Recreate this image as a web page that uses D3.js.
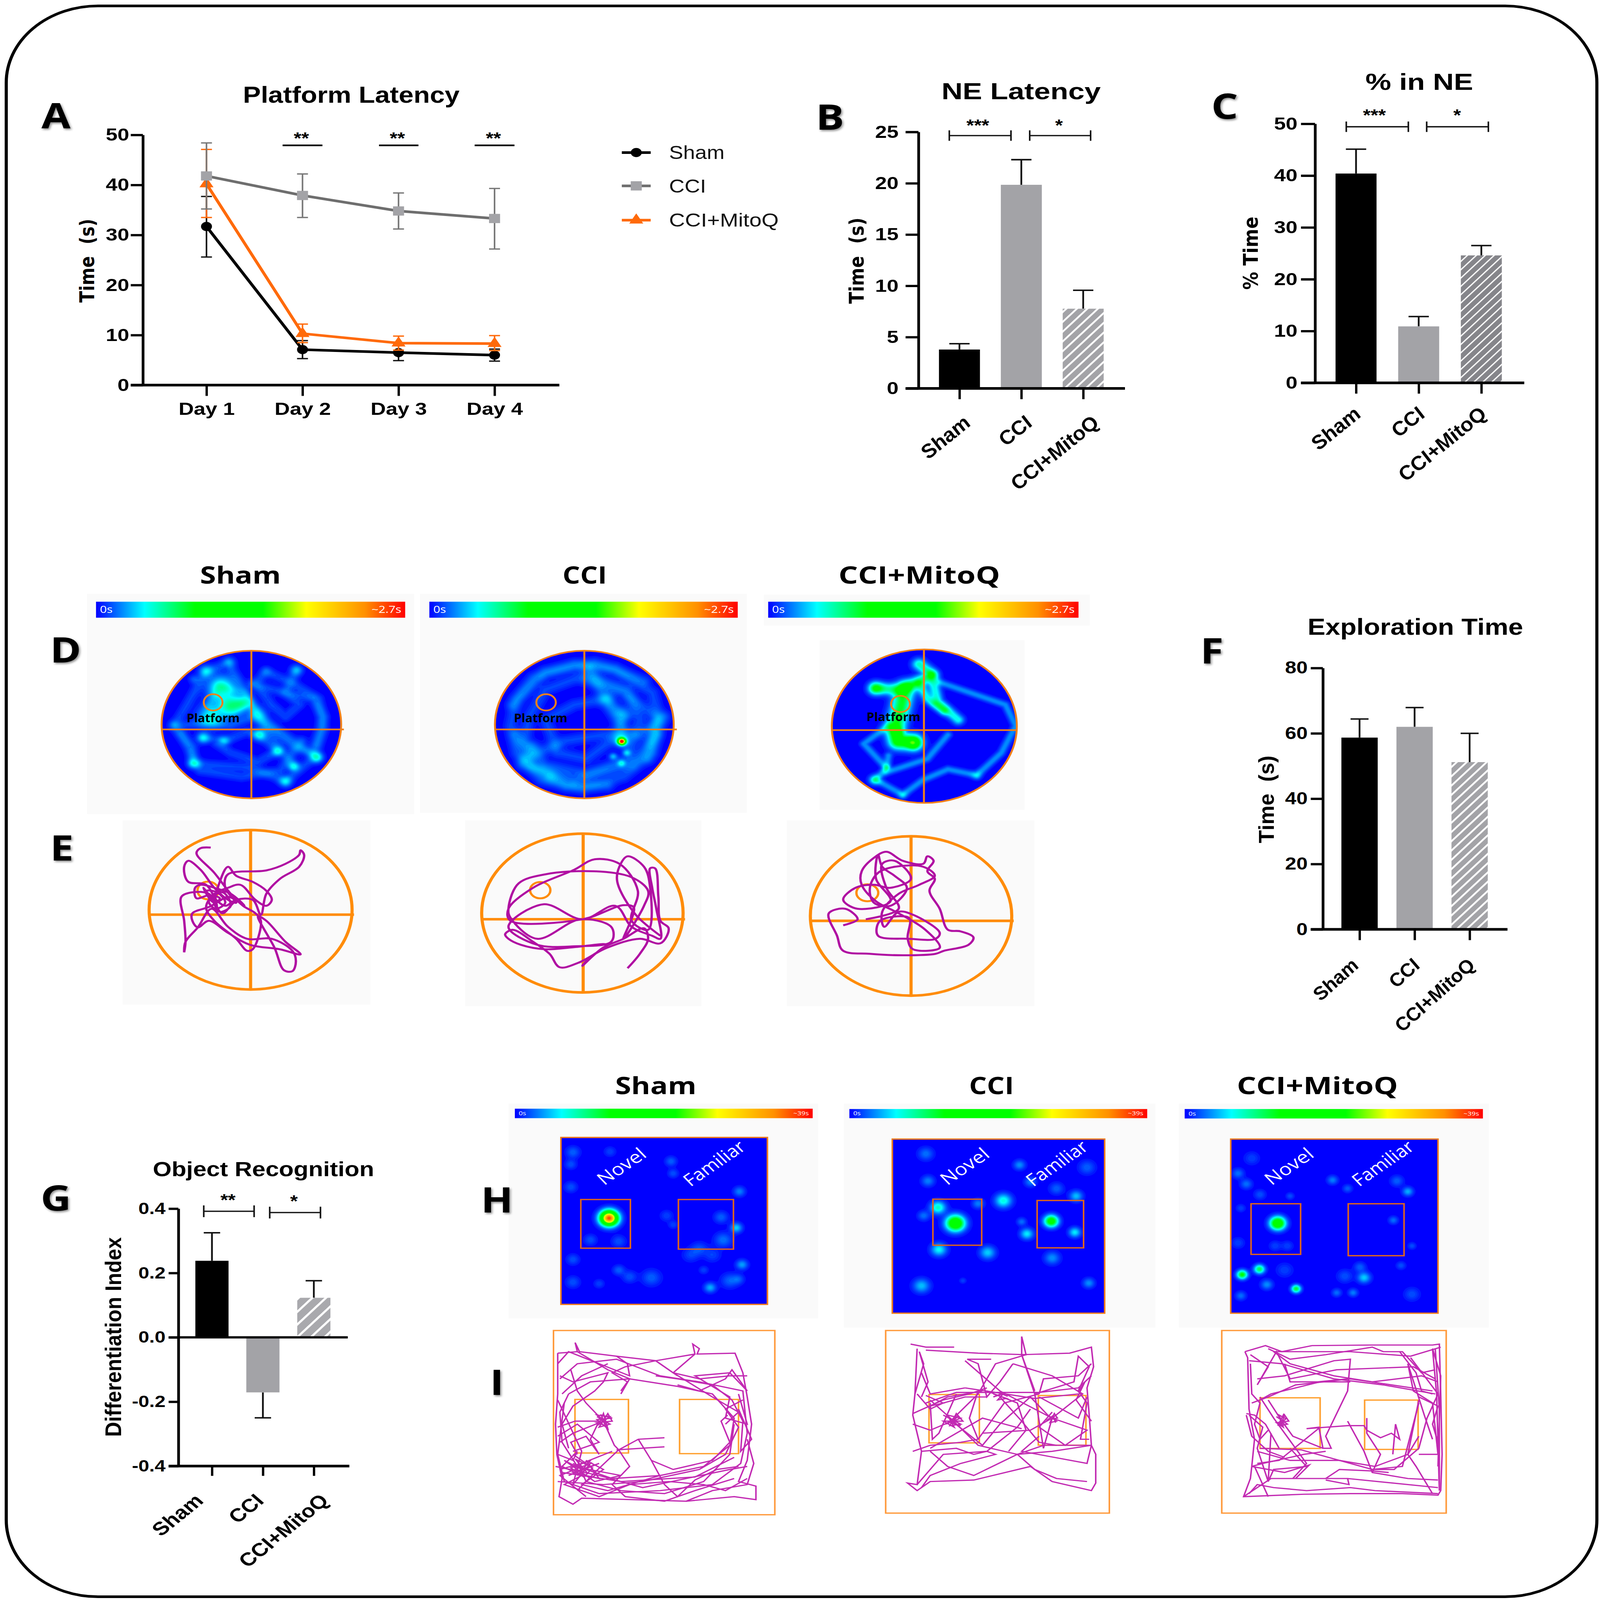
<!DOCTYPE html>
<html><head><meta charset="utf-8">
<script src="https://cdn.jsdelivr.net/npm/d3@7/dist/d3.min.js"></script>
<style>html,body{margin:0;padding:0;background:#fff;width:100%;height:100%;overflow:hidden}svg{display:block;width:100vw;height:100vh}
.lab{filter:drop-shadow(3px 4px 3px rgba(0,0,0,.45))}</style></head><body>
<script>
/* ---------- data ---------- */
const groups=["Sham","CCI","CCI+MitoQ"];
const days=["Day 1","Day 2","Day 3","Day 4"];
const latencySham=[31.7,7.1,6.5,6.0];
const latencySham_hi=[37.7,8.9,8.1,7.2];
const latencySham_lo=[25.6,5.3,4.9,4.8];
const latencyCCI=[41.8,37.9,34.8,33.3];
const latencyCCI_hi=[48.4,42.2,38.4,39.3];
const latencyCCI_lo=[35.2,33.5,31.2,27.2];
const latencyMito=[40.2,10.3,8.4,8.3];
const latencyMito_hi=[47.1,12.2,9.8,9.9];
const latencyMito_lo=[33.5,8.5,7.0,6.9];
const neLatency=[3.79,19.85,7.77];
const neLatencyErr=[0.57,2.45,1.8];
const neTime=[40.4,10.9,24.6];
const neTimeErr=[4.7,1.9,1.9];
const exploration=[58.7,62,51.2];
const explorationErr=[5.7,5.9,8.8];
const recognition=[0.238,-0.171,0.123];
const recognitionErr=[0.087,0.079,0.053];
const rampStops=[0,.157,.32,.54,.68,.87,1];
const rampColors=["#0000ff","#00ffff","#00ff00","#00ff00","#ffff00","#ff9000","#ff0000"];

/* heat spots [x,y,amp,sigma] and tracks, in picture-reading units */
const heatShamD={blobs:[[665,460,.17,24],[705,525,.17,20],[625,560,.15,22],[745,515,.13,14],[610,408,.11,12],[695,378,.07,11],[940,405,.08,11],[565,715,.12,10],[600,630,.12,11],[675,640,.1,10],[805,620,.14,12],[870,675,.12,10],[930,725,.12,10],[1015,695,.13,11],[900,775,.12,11],[565,435,.05,9],[800,550,.07,16],[680,520,.07,30]],
 tracks:[[[500,580],[540,520],[610,410],[690,380],[740,460],[790,540],[860,640],[930,725]],[[490,590],[560,660],[560,715],[640,720],[775,730],[900,775],[1000,700],[1040,600],[1020,500],[930,450],[830,410]],[[600,630],[680,640],[760,610],[805,620],[870,675],[800,710],[700,680],[650,650]],[[620,520],[660,460],[750,480],[800,550],[900,620],[1015,695]],[[940,405],[900,480],[950,520],[900,560],[850,520],[790,450],[830,410]],[[500,590],[620,580],[700,590],[780,560],[850,600],[930,660],[990,680]],[[520,620],[590,740],[740,760],[880,740],[960,640]],[[780,450],[860,470],[1000,500],[1040,560],[1010,650]]],amp:.04,sigma:10};
const heatCciD={blobs:[[516,642,1,6],[516,642,.12,12],[495,692,.11,7],[515,715,.12,7],[528,680,.11,7],[520,550,.06,16],[480,500,.05,14],[300,660,.04,14],[340,760,.04,14]],
 tracks:[[[260,500],[300,430],[400,385],[500,400],[590,480],[610,580],[590,680],[520,760],[420,800],[320,770],[260,680],[245,590],[260,500]],[[290,560],[330,470],[430,420],[530,470],[560,570],[530,700],[430,750],[330,720],[280,640],[290,560]],[[350,640],[330,570],[400,520],[480,500],[520,560],[500,630],[430,700],[360,680],[350,640]],[[440,400],[480,520],[520,600],[516,642]],[[280,700],[380,640],[470,620],[560,620],[620,560]],[[430,440],[520,480],[600,560],[580,700]],[[260,620],[300,720],[380,790],[480,790]],[[250,520],[330,410],[450,380],[570,440]],[[275,720],[400,770],[540,720],[600,620]]],amp:.042,sigma:12};
const heatMitoD={blobs:[[1225,647,.3,12],[1132,770,.17,10],[1380,755,.07,9],[1135,465,.17,13],[1185,605,.15,12],[1160,730,.07,7],[1200,820,.07,8],[1190,640,.12,16]],
 tracks:[[[1240,385],[1270,420],[1225,450],[1190,470],[1135,465]],[[1205,470],[1195,530],[1180,600],[1190,640],[1225,645]],[[1270,420],[1285,510],[1335,570]],[[1240,450],[1260,500],[1300,540]],[[1290,445],[1450,520],[1475,590],[1440,680],[1380,755],[1310,735],[1250,770],[1200,820],[1135,770],[1160,730],[1105,650],[1165,590]],[[1310,620],[1260,700],[1160,745],[1165,690]]],
 amps:[.2,.3,.17,.16,.09,.09],sigmas:[12,17,10,9,7,7]};
const heatShamH={blobs:[[323,518,.95,15],[240,300,.06,12],[235,340,.05,10],[325,298,.04,10],[465,330,.06,10],[470,370,.05,9],[235,415,.05,11],[622,430,.08,10],[615,550,.13,10],[580,515,.06,12],[585,590,.07,15],[530,620,.05,14],[280,590,.05,11],[345,595,.05,12],[240,655,.05,11],[628,672,.1,10],[540,690,.04,8],[345,690,.06,10],[420,715,.06,16],[370,712,.05,12],[300,735,.04,9],[240,730,.05,12],[555,748,.11,10],[600,725,.06,15],[620,720,.05,10],[455,510,.04,11],[470,540,.04,8],[510,640,.04,14],[560,640,.04,14]],tracks:[]};
const heatCciH={blobs:[[1078,483,.2,13],[1118,535,.48,16],[1228,460,.18,14],[1338,528,.4,12],[1392,565,.15,10],[1282,570,.15,11],[1080,622,.16,13],[1192,632,.13,13],[1340,650,.09,13],[1040,742,.12,14],[1424,733,.09,10],[1265,342,.09,10],[1055,395,.08,11],[1050,305,.07,13],[1395,445,.12,11],[1290,398,.08,10],[1420,350,.06,14],[1350,420,.06,12],[1170,470,.08,10],[1045,510,.07,10],[1270,530,.07,8],[1135,725,.04,6]],tracks:[]};
const heatMitoH={blobs:[[675,535,.48,13],[545,705,.34,9],[608,687,.28,9],[742,752,.3,8],[990,715,.13,11],[875,392,.08,9],[930,420,.06,8],[530,370,.07,10],[560,405,.07,10],[1150,430,.11,9],[1110,395,.06,11],[1097,525,.07,8],[635,738,.09,10],[540,775,.07,9],[950,765,.08,8],[890,765,.07,8],[975,680,.06,10],[1125,675,.05,8],[1165,610,.05,7],[720,445,.05,7],[610,440,.05,10],[1165,770,.05,13],[580,320,.04,13],[665,610,.04,10],[710,610,.04,10],[530,600,.04,11],[540,485,.04,8],[700,690,.04,14],[920,710,.05,13]],tracks:[]};

/* swim paths, picture-reading units */
const swimSham=[[627,996],[590,998],[575,1015],[640,1080],[700,1150],[745,1190],[790,1215],[810,1240],[780,1335],[760,1340],[720,1300],[640,1240],[610,1195],[640,1150],[690,1130],[735,1120],[790,1170],[830,1190],[850,1170],[830,1140],[780,1110],[720,1090],[690,1060],[660,1110],[645,1180],[670,1215],[720,1175],[750,1190],[700,1150],[640,1130],[590,1120],[570,1130],[575,1165],[620,1155],[660,1165],[630,1190],[560,1215],[560,1240],[580,1262],[620,1240],[690,1280],[770,1320],[880,1335],[955,1352],[900,1310],[830,1240],[800,1225],[860,1330],[895,1405],[925,1408],[938,1375],[925,1340],[850,1300],[760,1300],[690,1260],[630,1200],[580,1262],[535,1310],[530,1345],[535,1310],[530,1240],[520,1160],[560,1145],[620,1150],[650,1190],[610,1120],[545,1110],[530,1060],[545,1040],[590,1070],[640,1130],[690,1170],[720,1180],[680,1130],[690,1085],[830,1072],[900,1050],[950,1020],[955,1005],[968,1020],[950,1060],[880,1100],[830,1150],[810,1220],[780,1170],[720,1170],[680,1190],[640,1165],[610,1140],[650,1145],[680,1180],[645,1200],[620,1175],[670,1145],[700,1190],[660,1210],[630,1165],[600,1130],[640,1180],[690,1160],[740,1185]];
const swimCci=[[530,1398],[560,1350],[580,1300],[570,1265],[520,1300],[470,1330],[420,1390],[440,1360],[480,1320],[400,1328],[330,1335],[270,1320],[240,1300],[232,1285],[250,1270],[300,1310],[340,1350],[365,1395],[410,1380],[480,1330],[560,1300],[610,1315],[630,1265],[610,1240],[605,1160],[597,1065],[585,1065],[590,1130],[600,1200],[610,1300],[590,1290],[540,1260],[500,1190],[420,1235],[325,1185],[240,1260],[310,1320],[400,1325],[490,1310],[490,1260],[415,1235],[310,1300],[245,1230],[240,1200],[265,1115],[330,1085],[450,1075],[540,1095],[580,1140],[570,1190],[520,1300],[545,1195],[520,1188],[420,1235],[245,1240],[240,1200],[300,1130],[400,1070],[450,1035],[510,1050],[555,1140],[540,1240],[580,1270],[585,1130],[570,1060],[530,1025],[510,1060],[505,1110],[550,1220],[610,1290]];
const swimMito=[[1055,1255],[1090,1235],[1060,1200],[1020,1215],[1040,1290],[1055,1340],[1120,1350],[1200,1355],[1280,1350],[1300,1340],[1360,1320],[1372,1295],[1340,1275],[1310,1270],[1290,1200],[1265,1140],[1278,1100],[1260,1075],[1275,1040],[1260,1025],[1250,1050],[1200,1040],[1160,1010],[1130,1030],[1100,1075],[1100,1120],[1135,1175],[1190,1215],[1255,1270],[1290,1330],[1225,1335],[1212,1300],[1215,1230],[1145,1240],[1140,1290],[1215,1300],[1280,1300],[1290,1280],[1225,1220],[1190,1210],[1155,1260],[1150,1210],[1190,1150],[1240,1120],[1278,1090],[1250,1060],[1180,1060],[1140,1080],[1120,1130],[1130,1180],[1170,1190],[1210,1130],[1180,1090],[1150,1060],[1140,1020],[1135,1100],[1170,1175],[1090,1200],[1055,1170],[1085,1130],[1130,1120],[1170,1130],[1220,1100],[1180,1040],[1150,1050],[1160,1130],[1190,1200],[1110,1235]];
const walkSham=[[[205,965],[250,960],[245,930],[255,960],[340,975],[430,990],[520,968],[515,935],[530,950],[525,968],[612,965],[630,1030],[640,1110],[650,1200],[640,1320],[620,1390],[660,1405],[660,1450],[610,1440],[500,1455],[380,1450],[260,1445],[240,1465],[208,1440],[215,1380],[203,1300],[200,1200],[205,1100],[205,965]],[[230,1100],[280,1060],[370,1050],[480,1075],[560,1100],[610,1180],[600,1270],[540,1340],[440,1370],[330,1380],[250,1340],[215,1260],[210,1160],[230,1100]],[[210,1050],[250,1000],[340,985],[440,1040],[530,1060],[630,1090],[640,1230],[625,1330],[560,1400],[440,1420],[300,1430],[220,1390],[205,1300],[220,1130]],[[250,960],[320,1020],[370,1050],[350,1100]],[[520,968],[470,1030],[560,1110],[620,1160],[590,1200]],[[310,1190],[270,1130],[250,1090],[235,1020]],[[310,1190],[240,1230],[210,1260]],[[310,1190],[335,1270],[345,1285],[290,1360],[250,1420]],[[345,1285],[390,1250],[450,1245]],[[390,1250],[420,1320],[450,1400]],[[340,1285],[450,1275]],[[200,1340],[300,1370],[400,1410],[500,1380],[600,1350],[640,1340]],[[210,1350],[260,1330],[330,1290]],[[250,1320],[270,1390],[350,1420],[450,1430],[540,1390],[600,1300],[610,1200]],[[215,1360],[350,1390],[520,1375],[610,1310]],[[240,1290],[300,1260],[250,1200],[205,1240]],[[205,1120],[260,1290],[240,1400],[280,1330],[210,1370],[270,1440]],[[295,1175],[325,1200],[300,1210],[320,1165],[330,1190],[295,1195],[315,1205],[305,1170],[330,1180],[295,1185],[320,1215],[310,1165],[300,1200],[325,1175],[295,1170],[315,1190],[300,1180],[320,1205]],[[620,1100],[640,1200],[590,1180],[600,1110],[520,1040],[600,1030]],[[230,1370],[300,1330],[260,1350],[220,1320],[290,1390],[350,1370],[240,1340]],[[205,1000],[230,960],[300,1000],[370,1040],[365,1000],[340,975]],[[210,1040],[240,1060],[320,1030],[310,1060],[290,1090],[240,1140],[215,1200],[230,1280]],[[430,990],[470,1030],[530,1050],[600,1040],[640,1040]],[[600,1030],[640,1090],[605,1020],[590,1050],[530,1090],[480,1070]],[[205,1300],[240,1320],[250,1290],[215,1340],[260,1370],[220,1400],[300,1440],[370,1400],[460,1390],[540,1400],[590,1420],[640,1380]],[[205,1390],[310,1400],[400,1390],[530,1350],[590,1300],[620,1210],[590,1150],[630,1120]],[[240,1300],[280,1340],[240,1360],[300,1380],[270,1320],[310,1350],[260,1400],[320,1420],[380,1395],[440,1370]],[[345,1285],[370,1340],[330,1400],[360,1440],[450,1455],[520,1420],[610,1380]],[[205,1210],[245,1190],[300,1190],[280,1250],[300,1300],[270,1240],[235,1260],[250,1300]],[[420,1320],[470,1350],[560,1320],[600,1260],[580,1190],[595,1170]],[[500,1455],[560,1420],[640,1400],[655,1330],[640,1250]],[[620,1150],[650,1250],[625,1290],[630,1190],[605,1120],[560,1070],[480,1050],[430,1040]],[[350,1090],[365,1060],[330,1030],[360,1010],[430,990],[480,1040]],[[215,1100],[260,1040],[320,1000]],[[450,1400],[480,1440],[520,1385],[570,1350],[620,1340]],[[240,1330],[270,1350],[250,1370],[280,1320],[235,1345],[265,1375],[285,1345],[245,1315],[275,1365]]];
const walkCci=[[[1015,935],[1050,945],[1115,945]],[[1030,950],[1025,1100],[1020,1170],[1040,1290],[1030,1400],[1008,1395],[1030,1420],[1060,1390],[1160,1385],[1290,1340],[1340,1390],[1430,1420],[1440,1395],[1440,1300],[1430,1270],[1425,1170],[1420,1080],[1435,1010],[1430,945],[1380,965],[1270,970],[1270,910],[1280,970],[1170,965],[1050,955]],[[1050,1130],[1120,1095],[1220,1095],[1310,1095],[1400,1080],[1430,1040]],[[1060,1120],[1110,1185],[1170,1270],[1260,1300],[1320,1270],[1430,1270]],[[1110,1185],[1170,1100],[1210,1000],[1280,970]],[[1140,990],[1220,1090],[1340,1180],[1320,1280],[1300,1100],[1270,970],[1300,1090]],[[1060,1290],[1100,1340],[1160,1370],[1260,1300],[1340,1290],[1430,1270]],[[1020,1165],[1090,1120],[1150,1100],[1190,1080]],[[1340,1180],[1410,1100],[1340,1040],[1250,1000]],[[1340,1180],[1420,1220],[1370,1270],[1310,1210],[1340,1160]],[[1110,1190],[1060,1220],[1020,1200]],[[1170,1250],[1230,1130],[1310,1100]],[[1030,1400],[1090,1300],[1190,1290],[1260,1210],[1290,1150]],[[1040,1030],[1060,1100],[1140,1080]],[[1180,1230],[1290,1220],[1340,1180]],[[1060,1280],[1180,1180],[1270,1215]],[[1090,1170],[1130,1200],[1105,1205],[1120,1165],[1135,1190],[1090,1190],[1115,1210],[1100,1170],[1130,1180],[1095,1200],[1125,1172],[1108,1195],[1130,1205]],[[1330,1170],[1350,1190],[1335,1195],[1345,1165],[1352,1180],[1330,1185],[1342,1172],[1348,1195]],[[1205,1100],[1235,1115],[1215,1120],[1230,1095],[1205,1110],[1225,1100],[1238,1108]],[[1050,1105],[1090,1130],[1060,1140],[1100,1110],[1180,1090]],[[1400,1095],[1415,1060],[1395,1120],[1430,1190]],[[1030,1100],[1060,1150],[1090,1130],[1140,1110],[1190,1110]],[[1025,1100],[1045,1000],[1035,960],[1055,1060],[1040,1110]],[[1170,1090],[1150,1180],[1170,1250],[1130,1260],[1060,1270],[1020,1290]],[[1250,1000],[1220,1060],[1190,1110],[1170,1000],[1145,985],[1200,985]],[[1300,1100],[1390,1060],[1400,975],[1425,1010],[1400,1090],[1420,1130],[1405,1250],[1425,1250]],[[1310,1100],[1320,1050],[1400,1040],[1430,1000]],[[1190,1290],[1210,1300],[1130,1330],[1060,1370],[1040,1410]],[[1260,1300],[1300,1350],[1350,1380],[1420,1390]],[[1190,1090],[1260,1130],[1280,1220],[1240,1290]],[[1110,1190],[1180,1270],[1220,1200],[1290,1110],[1330,1170]],[[1220,1110],[1270,1190],[1310,1260],[1350,1270]],[[1310,1110],[1400,1180],[1420,1110]],[[1310,1240],[1270,1290],[1420,1330],[1430,1270]],[[1040,1290],[1120,1280],[1160,1300],[1190,1290]],[[1060,1130],[1065,1250],[1080,1230],[1120,1100]],[[1140,1080],[1210,1095],[1300,1115],[1400,1100]]];
const walkMito=[[[555,960],[630,940],[690,960],[800,940],[1020,938],[1240,938],[1265,935],[1270,1100],[1275,1300],[1270,1420],[1260,1435],[1130,1430],[940,1430],[770,1432],[550,1440],[575,1380],[580,1340],[590,1250],[570,1150],[565,980],[555,960]],[[1270,945],[1160,975],[940,960],[660,960]],[[570,990],[690,1000],[880,1050],[1060,1070],[1250,1100]],[[600,1050],[700,1040],[880,990],[940,985],[930,1090],[850,1240],[870,1280],[840,1280],[825,1210],[780,1215],[930,1205],[990,1205],[1000,1220],[1050,1245],[1090,1230],[1120,1250],[1105,1200],[1095,1300]],[[610,1110],[660,1180],[740,1280],[780,1330],[730,1380]],[[580,1130],[640,1110],[740,1070],[940,1050],[1240,1090]],[[930,1190],[990,1290],[1020,1360],[1150,1380],[1260,1385]],[[610,1280],[760,1285],[1020,1350],[1130,1340],[1190,1130]],[[550,1440],[650,1380],[930,1380],[1260,1410]],[[600,1330],[680,1320],[830,1210]],[[640,1120],[690,1190],[730,1240],[840,1280]],[[570,1170],[620,1210],[600,1280],[640,1390],[650,1230]],[[1150,1000],[1170,1090],[1240,1130],[1260,1300],[1190,1300]],[[850,1380],[900,1350],[1020,1355],[1080,1360]],[[1240,1250],[1210,1170],[1150,1000]],[[1250,950],[1265,1150],[1265,1420],[1255,1100],[1240,950],[1270,1040],[1260,1340]],[[670,1175],[710,1200],[685,1205],[700,1170],[715,1190],[670,1195],[695,1210],[680,1170],[705,1182],[675,1205],[698,1165]],[[575,970],[640,1010],[600,1070],[670,960],[720,1050],[890,1020],[1170,1010],[1250,1050]],[[580,1340],[700,1360],[790,1335],[740,1380]],[[1160,980],[1260,1100],[1220,1180],[1190,1280],[1100,1350],[1020,1350]],[[575,1000],[580,1100],[610,1130],[590,1200],[610,1250],[640,1220]],[[560,1165],[590,1170],[630,1200],[680,1280]],[[660,960],[720,1000],[880,1040],[1020,1060],[1200,1040],[1260,1060]],[[640,950],[720,985],[850,970],[1020,945],[1060,960],[1130,960],[1200,1030],[1250,1020]],[[1120,960],[1180,1030],[1200,1090],[1240,1100]],[[700,1000],[720,1060],[820,1060],[930,1050]],[[850,1290],[770,1300],[620,1330],[580,1340]],[[600,1290],[720,1320],[900,1320],[1030,1340],[1150,1300],[1190,1240]],[[720,1280],[780,1340],[660,1350],[640,1390]],[[930,1380],[935,1400],[850,1385]],[[1240,1430],[1180,1340],[1150,1300],[1190,1120]],[[1000,1180],[1000,1230],[1050,1300],[1020,1360]],[[570,1430],[600,1400],[660,1410],[780,1420],[940,1410],[1030,1420],[1260,1430]],[[610,1120],[650,1100],[830,1060],[940,1060]],[[1190,1110],[1260,1140],[1240,1200],[1260,1260]],[[590,1340],[620,1400],[640,1440]],[[560,1170],[580,1240],[640,1290],[700,1310]]];

/* ---------- helpers ---------- */
const W=4099,H=4898;
/* the drawing keeps the reference's coordinate system and fills whatever window it gets */
const svg=d3.select("body").append("svg").attr("viewBox",`0 0 ${W} ${H}`).attr("preserveAspectRatio","none");
const defs=svg.append("defs");
const SANS='"Liberation Sans",Arial,sans-serif', DV='"DejaVu Sans",sans-serif', OS='"Open Sans",sans-serif';
svg.append("rect").attr("width",W).attr("height",H).attr("fill","#fff");
svg.append("rect").attr("x",16).attr("y",18).attr("width",4075).attr("height",4870).attr("rx",235).attr("ry",235)
 .attr("fill","#fff").attr("stroke","#000").attr("stroke-width",8);

function txt(s,x,y,o={}){
 const t=svg.append("text").text(s).attr("x",x).attr("y",y)
  .attr("font-family",o.family||SANS).attr("font-size",o.size||50).attr("font-weight",o.weight||"bold")
  .attr("fill",o.fill||"#000").attr("text-anchor",o.anchor||"middle");
 if(o.italic)t.attr("font-style","italic");
 if(o.width)t.attr("textLength",o.width).attr("lengthAdjust","spacingAndGlyphs");
 if(o.rot!=null)t.attr("transform",`rotate(${o.rot} ${x} ${y})`);
 if(o.cls)t.attr("class",o.cls);
 return t;
}
const label=(s,x,y,size=108)=>txt(s,x,y,{family:OS,size,weight:"bold",anchor:"start",cls:"lab"});
const title=(s,x,y,width,size=70,family=SANS)=>txt(s,x,y,{size,width,family});

function yAxisDraw(scale,x,ticks,o){
 const g=svg.append("g").attr("transform",`translate(${x},0)`)
  .call(d3.axisLeft(scale).tickValues(ticks).tickFormat(o.fmt||d3.format("d")).tickSize(o.tick).tickSizeOuter(0).tickPadding(o.pad));
 g.selectAll("path.domain").attr("stroke","#000").attr("stroke-width",o.sw||7);
 g.selectAll(".tick line").attr("stroke","#000").attr("stroke-width",o.sw||7);
 g.selectAll("text").attr("font-family",SANS).attr("font-weight","bold").attr("font-size",o.size).attr("fill","#000");
}
function xAxisDraw(scale,y,xStart,xEnd,tick,labels){
 const g=svg.append("g").attr("transform",`translate(0,${y})`)
  .call(d3.axisBottom(scale).tickSize(tick).tickSizeOuter(0).tickFormat(labels?null:""));
 g.select("path.domain").remove();
 g.selectAll(".tick line").attr("stroke","#000").attr("stroke-width",6);
 g.append("line").attr("x1",xStart).attr("x2",xEnd).attr("stroke","#000").attr("stroke-width",8);
 return g;
}
function hatch(id,color,period,white){
 const p=defs.append("pattern").attr("id",id).attr("patternUnits","userSpaceOnUse").attr("width",period).attr("height",period).attr("patternTransform","rotate(42)");
 p.append("rect").attr("width",period).attr("height",period).attr("fill",color);
 p.append("rect").attr("width",white).attr("height",period).attr("fill","#fff");
}
hatch("hB","#a3a3a7",20,5);hatch("hC","#85858a",17,3.5);hatch("hF","#a3a3a7",19,5);hatch("hG","#a9a9ad",26,6);

function bracket(x1,x2,y,h,stars,sx,sy,size=50){
 const g=svg.append("g").attr("stroke","#111").attr("stroke-width",4).attr("fill","none");
 g.append("line").attr("x1",x1).attr("x2",x2).attr("y1",y).attr("y2",y);
 g.append("line").attr("x1",x1).attr("x2",x1).attr("y1",y-h).attr("y2",y+h);
 g.append("line").attr("x1",x2).attr("x2",x2).attr("y1",y-h).attr("y2",y+h);
 txt(stars,sx,sy,{size});
}
function bars(o){
 const x=d3.scalePoint().domain(groups).range(o.cx);
 const y=d3.scaleLinear().domain(o.dom).range(o.yr);
 const base=y(0);
 const cols=["#000","#a3a3a7",`url(#${o.hatch})`];
 const err=svg.append("g").attr("stroke","#111").attr("stroke-width",4.5);
 groups.forEach((g,i)=>{
  const v=o.values[i],e=o.errs[i],tip=v>=0?v+e:v-e;
  err.append("line").attr("x1",x(g)).attr("x2",x(g)).attr("y1",y(v)).attr("y2",y(tip));
  err.append("line").attr("x1",x(g)-o.cap).attr("x2",x(g)+o.cap).attr("y1",y(tip)).attr("y2",y(tip));
 });
 svg.append("g").selectAll("rect").data(groups).join("rect")
  .attr("x",d=>x(d)-o.bw/2).attr("width",o.bw)
  .attr("y",(d,i)=>Math.min(y(o.values[i]),base)).attr("height",(d,i)=>Math.abs(y(o.values[i])-base))
  .attr("fill",(d,i)=>cols[i]);
 yAxisDraw(y,o.ax,o.ticks,{tick:o.tick,pad:o.pad,size:o.size,fmt:o.fmt});
 return {x,y};
}

/* ---------- A ---------- */
{
 const x=d3.scalePoint().domain(days).range([529,1267]);
 const y=d3.scaleLinear().domain([0,50]).range([1179,413]);
 const series=[
  {v:latencySham,hi:latencySham_hi,lo:latencySham_lo,line:"#000",err:"#111",mk:"#000",sym:d3.symbolCircle,sz:620},
  {v:latencyMito,hi:latencyMito_hi,lo:latencyMito_lo,line:"#ff6a0a",err:"#ff6a0a",mk:"#ff6a0a",sym:d3.symbolTriangle,sz:560},
  {v:latencyCCI,hi:latencyCCI_hi,lo:latencyCCI_lo,line:"#6e6e6e",err:"#777",mk:"#a3a3a7",sym:d3.symbolSquare,sz:800}];
 const ln=d3.line().x((d,i)=>x(days[i])).y(d=>y(d));
 series.forEach(s=>{
  const g=svg.append("g");
  days.forEach((d,i)=>{
   g.append("line").attr("x1",x(d)).attr("x2",x(d)).attr("y1",y(s.hi[i])).attr("y2",y(s.lo[i])).attr("stroke",s.err).attr("stroke-width",4);
   [s.hi[i],s.lo[i]].forEach(e=>g.append("line").attr("x1",x(d)-14).attr("x2",x(d)+14).attr("y1",y(e)).attr("y2",y(e)).attr("stroke",s.err).attr("stroke-width",4));
  });
  g.append("path").attr("d",ln(s.v)).attr("fill","none").attr("stroke",s.line).attr("stroke-width",8);
  g.selectAll("path.m").data(s.v).join("path").attr("class","m")
   .attr("transform",(d,i)=>`translate(${x(days[i])},${y(d)})`).attr("d",d3.symbol().type(s.sym).size(s.sz)).attr("fill",s.mk);
 });
 yAxisDraw(y,366,[0,10,20,30,40,50],{tick:31,pad:4,size:54});
 const ax=xAxisDraw(x,1179,335,1433,33,true);
 ax.selectAll("text").attr("font-family",SANS).attr("font-weight","bold").attr("font-size",54).attr("fill","#000").attr("dy","1.02em");
 title("Platform Latency",900,315,555);
 txt("Time  (s)",241,798,{family:DV,size:52,rot:-90,width:257}).attr("xml:space","preserve");
 [[724,826,772],[971,1072,1018],[1216,1318,1264]].forEach(b=>{
  svg.append("line").attr("x1",b[0]).attr("x2",b[1]).attr("y1",445).attr("y2",445).attr("stroke","#000").attr("stroke-width",5);
  txt("**",b[2],440,{size:50});
 });
 const legendRows=[["Sham",467,487,"#000","#000",d3.symbolCircle,620,142],["CCI",569,590,"#6e6e6e","#a3a3a7",d3.symbolSquare,800,95],["CCI+MitoQ",674,694,"#ff6a0a","#ff6a0a",d3.symbolTriangle,560,281]];
 legendRows.forEach(r=>{
  svg.append("line").attr("x1",1593).attr("x2",1667).attr("y1",r[1]).attr("y2",r[1]).attr("stroke",r[3]).attr("stroke-width",8);
  svg.append("path").attr("transform",`translate(1630,${r[1]})`).attr("d",d3.symbol().type(r[5]).size(r[6])).attr("fill",r[4]);
  txt(r[0],1714,r[2],{weight:"normal",size:58,anchor:"start",width:r[7],fill:"#111"});
 });
 label("A",106,392);
}
/* ---------- B ---------- */
function xNames(ends,y,size,italic,rot=-44){
 groups.forEach((g,i)=>txt(g,ends[i],y,{size,italic,anchor:"end",rot}));
}
{
 const {x}=bars({cx:[2458,2775],dom:[0,25],yr:[1189,404],values:neLatency,errs:neLatencyErr,hatch:"hB",bw:105,cap:26,ax:2353,ticks:[0,5,10,15,20,25],tick:33,pad:18,size:54});
 xAxisDraw(x,1189,2320,2882,33,false);
 xNames([2491,2649,2820],1299,57,true);
 title("NE Latency",2616,304,408);
 txt("Time  (s)",2213,798,{family:DV,size:52,rot:-90,width:264}).attr("xml:space","preserve");
 bracket(2432,2590,415,16,"***",2505,400);
 bracket(2638,2794,415,16,"*",2713,400);
 label("B",2090,397);
}
/* ---------- C ---------- */
{
 const {x}=bars({cx:[3474,3795],dom:[0,50],yr:[1172,379],values:neTime,errs:neTimeErr,hatch:"hC",bw:105,cap:26,ax:3369,ticks:[0,10,20,30,40,50],tick:36,pad:9,size:54});
 xAxisDraw(x,1172,3333,3905,33,false);
 xNames([3491,3655,3813],1272,57,true);
 title("% in NE",3636,275,276);
 txt("% Time",3222,775,{family:DV,size:52,rot:-90,width:224});
 bracket(3449,3608,388,16,"***",3521,370);
 bracket(3655,3813,388,16,"*",3733,370);
 label("C",3103,364);
}
/* ---------- F ---------- */
{
 const {x}=bars({cx:[3483,3765],dom:[0,80],yr:[2845,2045],values:exploration,errs:explorationErr,hatch:"hF",bw:93,cap:23,ax:3389,ticks:[0,20,40,60,80],tick:31,pad:8,size:52});
 xAxisDraw(x,2845,3358,3862,33,false);
 xNames([3485,3642,3783],2958,54,true,-47);
 title("Exploration Time",3626,1943,552);
 txt("Time  (s)",3263,2447,{size:56,rot:-90,width:268}).attr("xml:space","preserve");
 label("F",3075,2030);
}
/* ---------- G ---------- */
{
 const {x,y}=bars({cx:[543,804],dom:[-.4,.4],yr:[4488,3700],values:recognition,errs:recognitionErr,hatch:"hG",bw:85,cap:21,ax:457,ticks:[-.4,-.2,0,.2,.4],tick:25,pad:8,size:50,fmt:d3.format(".1f")});
 svg.selectAll("g.tick text").filter(function(){return this.textContent.includes("−")}).text(function(){return this.textContent.replace("−","-")});
 svg.append("line").attr("x1",432).attr("x2",891).attr("y1",y(0)).attr("y2",y(0)).attr("stroke","#000").attr("stroke-width",7);
 xAxisDraw(x,y(-.4),432,895,30,false);
 xNames([524,679,845],4598,57,false);
 title("Object Recognition",675,3600,567,62);
 txt("Differentiation Index",310,4093,{size:58,rot:-90,width:611});
 bracket(522,651,3708,18,"**",584,3690);
 bracket(691,821,3712,18,"*",753,3694);
 label("G",104,3706);
}
/* ---------- colour ramp ---------- */
const ramp=d3.scaleLinear().domain(rampStops).range(rampColors).interpolate(d3.interpolateRgb).clamp(true);
const grad=defs.append("linearGradient").attr("id","ramp");
rampStops.forEach((s,i)=>grad.append("stop").attr("offset",s).attr("stop-color",rampColors[i]));
function bar(x0,x1,y0,y1,lo,hi,size){
 svg.append("rect").attr("x",x0).attr("y",y0).attr("width",x1-x0).attr("height",y1-y0).attr("fill","url(#ramp)");
 txt(lo,x0+10,y0+(y1-y0)*.7,{family:OS,weight:"normal",size,fill:"#fff",anchor:"start"});
 txt(hi,x1-10,y0+(y1-y0)*.7,{family:OS,weight:"normal",size,fill:"#fff",anchor:"end"});
}
const bg=(x0,x1,y0,y1)=>svg.append("rect").attr("x",x0).attr("y",y0).attr("width",x1-x0).attr("height",y1-y0).attr("fill","#fafafa");
let clipN=0;
/* build a heat layer with d3.contours over a page-space grid */
function heat(box,sx,sy,spec,clipAttr){
 const cell=4,nx=Math.ceil(box.w/cell)+1,ny=Math.ceil(box.h/cell)+1;
 const vals=new Float64Array(nx*ny);
 spec.blobs.forEach(b=>{
  const px=sx(b[0]),py=sy(b[1]),s=b[3];
  for(let j=0;j<ny;j++)for(let i=0;i<nx;i++){
   const dx=box.x+i*cell-px,dy=box.y+j*cell-py,d=dx*dx+dy*dy;
   if(d<36*s*s)vals[j*nx+i]+=b[2]*Math.exp(-d/(2*s*s));
  }
 });
 spec.tracks.forEach((t,k)=>{
  const amp=spec.amps?spec.amps[k]:spec.amp,s=spec.sigmas?spec.sigmas[k]:spec.sigma;
  const pts=t.map(p=>[sx(p[0]),sy(p[1])]);
  for(let j=0;j<ny;j++)for(let i=0;i<nx;i++){
   const X=box.x+i*cell,Y=box.y+j*cell;let best=1e12;
   for(let m=0;m<pts.length-1;m++){
    const a=pts[m],b=pts[m+1],ux=b[0]-a[0],uy=b[1]-a[1];
    let r=((X-a[0])*ux+(Y-a[1])*uy)/(ux*ux+uy*uy);r=Math.max(0,Math.min(1,r));
    const dx=X-a[0]-r*ux,dy=Y-a[1]-r*uy,d=dx*dx+dy*dy;if(d<best)best=d;
   }
   vals[j*nx+i]+=amp*Math.exp(-best/(2*s*s));
  }
 });
 const th=d3.range(.01,1.0,.01);
 const cs=d3.contours().size([nx,ny]).thresholds(th)(vals);
 const path=d3.geoPath(d3.geoIdentity().scale(cell).translate([box.x-cell/2,box.y-cell/2]));
 const id="clip"+(clipN++);
 clipAttr(defs.append("clipPath").attr("id",id));
 const g=svg.append("g").attr("clip-path",`url(#${id})`);
 g.append("rect").attr("x",box.x).attr("y",box.y).attr("width",box.w).attr("height",box.h).attr("fill","#0000ff");
 g.selectAll("path").data(cs.filter(c=>c.coordinates.length)).join("path").attr("d",path).attr("fill",d=>ramp(d.value+.005));
}
const ORANGE="#f0801a",ORANGE2="#ff8c0a",PURPLE="#b00fa2",PINK="#c22ab2";

function arenaHeat(cx,cy,rx,ry,vx,hy,hxEnd,pf,pfText,sp,spec){
 const [sx,sy]=sp;
 heat({x:cx-rx,y:cy-ry,w:2*rx,h:2*ry},sx,sy,spec,c=>c.append("ellipse").attr("cx",cx).attr("cy",cy).attr("rx",rx).attr("ry",ry));
 svg.append("ellipse").attr("cx",cx).attr("cy",cy).attr("rx",rx).attr("ry",ry).attr("fill","none").attr("stroke",ORANGE).attr("stroke-width",5);
 svg.append("line").attr("x1",vx).attr("x2",vx).attr("y1",cy-ry).attr("y2",cy+ry).attr("stroke",ORANGE).attr("stroke-width",5);
 svg.append("line").attr("x1",cx-rx).attr("x2",hxEnd).attr("y1",hy).attr("y2",hy).attr("stroke",ORANGE).attr("stroke-width",5);
 svg.append("ellipse").attr("cx",pf[0]).attr("cy",pf[1]).attr("rx",pf[2]).attr("ry",pf[3]).attr("fill","none").attr("stroke",ORANGE).attr("stroke-width",5);
 txt("Platform",pfText[0],pfText[1],{family:OS,size:36,width:pfText[2]});
}
function arenaSwim(cx,cy,rx,ry,vx,hy,hxEnd,pf,sp,pts){
 const [sx,sy]=sp;
 const s={stroke:ORANGE2,"stroke-width":8,fill:"none"};
 const ap=(e)=>{Object.entries(s).forEach(([k,v])=>e.attr(k,v));return e;};
 ap(svg.append("ellipse")).attr("cx",cx).attr("cy",cy).attr("rx",rx).attr("ry",ry);
 ap(svg.append("line")).attr("x1",vx).attr("x2",vx).attr("y1",cy-ry).attr("y2",cy+ry);
 ap(svg.append("line")).attr("x1",cx-rx).attr("x2",hxEnd).attr("y1",hy).attr("y2",hy);
 ap(svg.append("ellipse")).attr("cx",pf[0]).attr("cy",pf[1]).attr("rx",pf[2]).attr("ry",pf[3]).attr("stroke-width",6);
 svg.append("path").attr("d",d3.line().x(d=>sx(d[0])).y(d=>sy(d[1])).curve(d3.curveCatmullRom.alpha(.5))(pts)).attr("fill","none").attr("stroke",PURPLE).attr("stroke-width",6);
}
/* scale from picture-reading units to page, per picture strip */
const z3=()=>[d3.scaleLinear().domain([0,1568]).range([100,1200]),d3.scaleLinear().domain([0,1568]).range([1680,3120])];
const z4=()=>[d3.scaleLinear().domain([0,1568]).range([1050,2700]),d3.scaleLinear().domain([0,1568]).range([1680,3120])];
const z7=()=>[d3.scaleLinear().domain([0,1568]).range([1200,2950]),d3.scaleLinear().domain([0,1568]).range([3250,4700])];
const z8=()=>[d3.scaleLinear().domain([0,1568]).range([2800,3900]),d3.scaleLinear().domain([0,1568]).range([3250,4700])];

/* ---------- D / E ---------- */
const hdSize=73;
title("Sham",616,1787,207,hdSize,OS);title("CCI",1498,1787,114,hdSize,OS);title("CCI+MitoQ",2355,1787,414,hdSize,OS);
bg(223,1061,1818,2492);bg(1076,1913,1818,2488);bg(1957,2792,1820,1915);bg(2100,2625,1960,2479);
bar(246,1038,1842,1891,"0s","~2.7s",31);bar(1100,1890,1842,1891,"0s","~2.7s",31);bar(1968,2763,1842,1891,"0s","~2.7s",31);
arenaHeat(644,2218,230,226,644,2233,881,[546,2150,24,25],[546,2211,136],z3(),heatShamD);
arenaHeat(1497,2218,229,226,1497,2233,1734,[1399,2150,25,25],[1385,2211,137],z4(),heatCciD);
arenaHeat(2368,2223,237,235,2367,2235,2605,[2307,2155,24,25],[2289,2208,138],z4(),heatMitoD);
bg(314,949,2511,3075);bg(1192,1797,2511,3080);bg(2016,2650,2511,3080);
arenaSwim(642,2785,260,244,642,2800,907,[533,2726,27,27],z3(),swimSham);
arenaSwim(1492,2795,258,243,1494,2814,1755,[1384,2725,26,25],z4(),swimCci);
arenaSwim(2334,2804,258,244,2334,2819,2597,[2222,2733,28,26],z4(),swimMito);
label("D",128,2028);label("E",128,2634);

/* ---------- H / I ---------- */
function box(x0,x1,y0,y1,c,w,fill="none"){svg.append("rect").attr("x",x0).attr("y",y0).attr("width",x1-x0).attr("height",y1-y0).attr("fill",fill).attr("stroke",c).attr("stroke-width",w);}
function objHeat(r,o1,o2,nov,fam,sp,spec){
 heat({x:r[0],y:r[2],w:r[1]-r[0],h:r[3]-r[2]},sp[0],sp[1],spec,c=>c.append("rect").attr("x",r[0]).attr("y",r[2]).attr("width",r[1]-r[0]).attr("height",r[3]-r[2]));
 box(r[0],r[1],r[2],r[3],"#f07a1a",4);
 box(o1[0],o1[1],o1[2],o1[3],"#e0651a",4);box(o2[0],o2[1],o2[2],o2[3],"#e0651a",4);
 txt("Novel",nov[0],nov[1],{family:OS,size:52,weight:"normal",fill:"#fff",anchor:"start",rot:-39,width:144});
 txt("Familiar",fam[0],fam[1],{family:OS,size:52,weight:"normal",fill:"#fff",anchor:"start",rot:-39,width:186});
}
function walk(r,o1,o2,sp,segs){
 svg.append("rect").attr("x",r[0]).attr("y",r[2]).attr("width",r[1]-r[0]).attr("height",r[3]-r[2]).attr("fill","#fff").attr("stroke","#ff9a3c").attr("stroke-width",4);
 box(o1[0],o1[1],o1[2],o1[3],"#ffa030",4);box(o2[0],o2[1],o2[2],o2[3],"#ffa030",4);
 const l=d3.line().x(d=>sp[0](d[0])).y(d=>sp[1](d[1]));
 svg.append("g").selectAll("path").data(segs).join("path").attr("d",l).attr("fill","none").attr("stroke",PINK).attr("stroke-width",3.8);
}
title("Sham",1680,3350,208,hdSize,OS);title("CCI",2540,3350,115,hdSize,OS);title("CCI+MitoQ",3375,3350,413,hdSize,OS);
bg(1303,2096,3378,4036);bg(2162,2960,3378,4064);bg(3020,3814,3378,4064);
bar(1319,2082,3394,3423,"0s","~39s",18);bar(2176,2939,3395,3423,"0s","~39s",18);bar(3035,3799,3395,3424,"0s","~39s",18);
objHeat([1437,1966,3482,3993],[1488,1615,3672,3821],[1738,1879,3672,3824],[1548,3630],[1769,3634],z7(),heatShamH);
objHeat([2286,2830,3487,4020],[2390,2515,3671,3812],[2657,2776,3675,3820],[2427,3630],[2647,3634],z7(),heatCciH);
objHeat([3153,3684,3487,4020],[3205,3332,3685,3840],[3454,3597,3685,3844],[3258,3630],[3482,3634],z8(),heatMitoH);
walk([1418,1985,4073,4637],[1473,1610,4284,4448],[1741,1892,4284,4450],z7(),walkSham);
walk([2269,2842,4073,4632],[2380,2509,4269,4417],[2660,2782,4272,4424],z7(),walkCci);
walk([3130,3705,4073,4632],[3228,3382,4279,4434],[3496,3633,4286,4437],z8(),walkMito);
label("H",1232,3712);label("I",1255,4270);
</script></body></html>
